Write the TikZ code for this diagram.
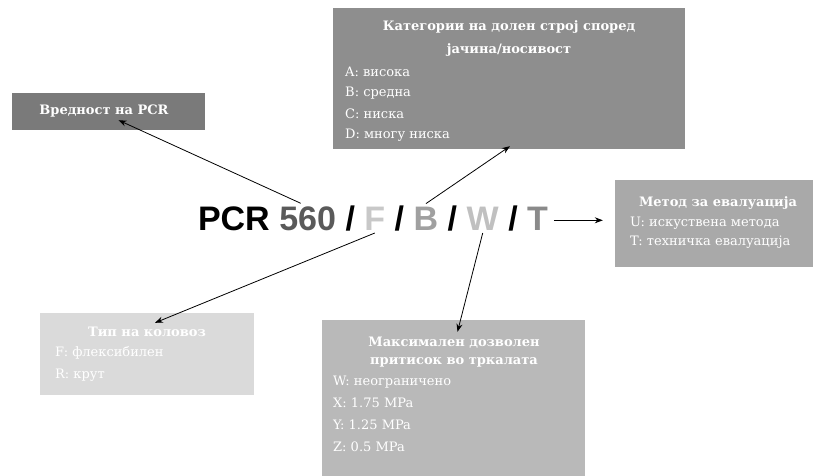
\documentclass[tikz,border=0pt]{standalone}
\usepackage{fontspec}
\setmainfont{DejaVu Serif}
\newfontfamily\codefont{Liberation Sans}
\usetikzlibrary{arrows.meta}

\definecolor{catfill}{HTML}{8E8E8E}
\definecolor{valfill}{HTML}{7A7A7A}
\definecolor{mthfill}{HTML}{A9A9A9}
\definecolor{prsfill}{HTML}{B9B9B9}
\definecolor{typfill}{HTML}{DADADA}
\definecolor{valtxt}{HTML}{5A5A5A}
\definecolor{typtxt}{HTML}{C8C8C8}
\definecolor{cattxt}{HTML}{A0A0A0}
\definecolor{prstxt}{HTML}{C0C0C0}
\definecolor{mthtxt}{HTML}{8A8A8A}

\begin{document}
\begin{tikzpicture}[x=1pt,y=-1pt,
  panel/.style={draw=none, inner sep=0pt},
  ptitle/.style={text=white, inner sep=0pt, font=\fontsize{13pt}{15pt}\selectfont\bfseries},
  pitem/.style={text=white, inner sep=0pt, anchor=west, font=\fontsize{13pt}{15pt}\selectfont},
  code/.style={inner sep=0pt, outer sep=3pt, anchor=base west, font=\codefont\bfseries\fontsize{34pt}{40pt}\selectfont},
  arr/.style={draw=black, line width=0.8pt, -{Stealth[length=8pt,width=6pt]}}]

\useasboundingbox (0,0) rectangle (817,476);

% panels
\node[panel, fill=valfill, minimum width=193pt, minimum height=37pt] (vbox) at (108.5,111.5) {};
\node[ptitle] (vt) at (104,111) {Вредност на PCR};

\node[panel, fill=catfill, minimum width=352pt, minimum height=141pt] (cbox) at (509,78.5) {};
\node[ptitle] (ct1) at (509,27) {Категории на долен строј според};
\node[ptitle] (ct2) at (509,50) {јачина/носивост};
\node[pitem] (ca) at (345,72) {A: висока};
\node[pitem] (cb) at (345,93) {B: средна};
\node[pitem] (cc) at (345,114) {C: ниска};
\node[pitem] (cd) at (345,135) {D: многу ниска};

\node[panel, fill=mthfill, minimum width=198pt, minimum height=87pt] (mbox) at (714,223.5) {};
\node[ptitle] (mt) at (718,203) {Метод за евалуација};
\node[pitem] (mu) at (630,223) {U: искуствена метода};
\node[pitem] (mtt) at (630,242) {T: техничка евалуација};

\node[panel, fill=typfill, minimum width=214pt, minimum height=82pt] (tbox) at (147,354) {};
\node[ptitle] (tt) at (147,332) {Тип на коловоз};
\node[pitem] (tf) at (55,353) {F: флексибилен};
\node[pitem] (tr) at (55,375) {R: крут};

\node[panel, fill=prsfill, minimum width=263pt, minimum height=156pt] (pbox) at (453.5,398) {};
\node[ptitle] (pt1) at (454,343) {Максимален дозволен};
\node[ptitle] (pt2) at (454,362) {притисок во тркалата};
\node[pitem] (pw) at (333,382) {W: неограничено};
\node[pitem] (px) at (333,403) {X: 1.75 MPa};
\node[pitem] (py) at (333,425) {Y: 1.25 MPa};
\node[pitem] (pz) at (333,447) {Z: 0.5 MPa};

% the code line
\node[code, text=black] (pcr) at (195,230) {PCR};
\node[code, text=valtxt] (val) at ([xshift=3.5pt]pcr.base east) {560};
\node[code, text=black] (sl1) at ([xshift=3.5pt]val.base east) {/};
\node[code, text=typtxt] (typ) at ([xshift=3.5pt]sl1.base east) {F};
\node[code, text=black] (sl2) at ([xshift=3.5pt]typ.base east) {/};
\node[code, text=cattxt] (cat) at ([xshift=3.5pt]sl2.base east) {B};
\node[code, text=black] (sl3) at ([xshift=3.5pt]cat.base east) {/};
\node[code, text=prstxt] (prs) at ([xshift=3.5pt]sl3.base east) {W};
\node[code, text=black] (sl4) at ([xshift=3.5pt]prs.base east) {/};
\node[code, text=mthtxt] (mth) at ([xshift=3.5pt]sl4.base east) {T};

% connectors
\draw[arr] ([xshift=-7pt]val.north) -- ([xshift=10pt,yshift=10pt]vbox.south);
\draw[arr] (cat.north) -- ([xshift=1pt,yshift=3pt]cbox.south);
\draw[arr] (typ.south) -- ([xshift=8pt,yshift=-10pt]tbox.north);
\draw[arr] (prs.south) -- ([xshift=4pt,yshift=-12pt]pbox.north);
\draw[arr, shorten <=3pt, shorten >=12pt] ([yshift=-2pt]mth.east) -- ([yshift=-2pt]mth.east -| mbox.west);
\end{tikzpicture}
\end{document}
